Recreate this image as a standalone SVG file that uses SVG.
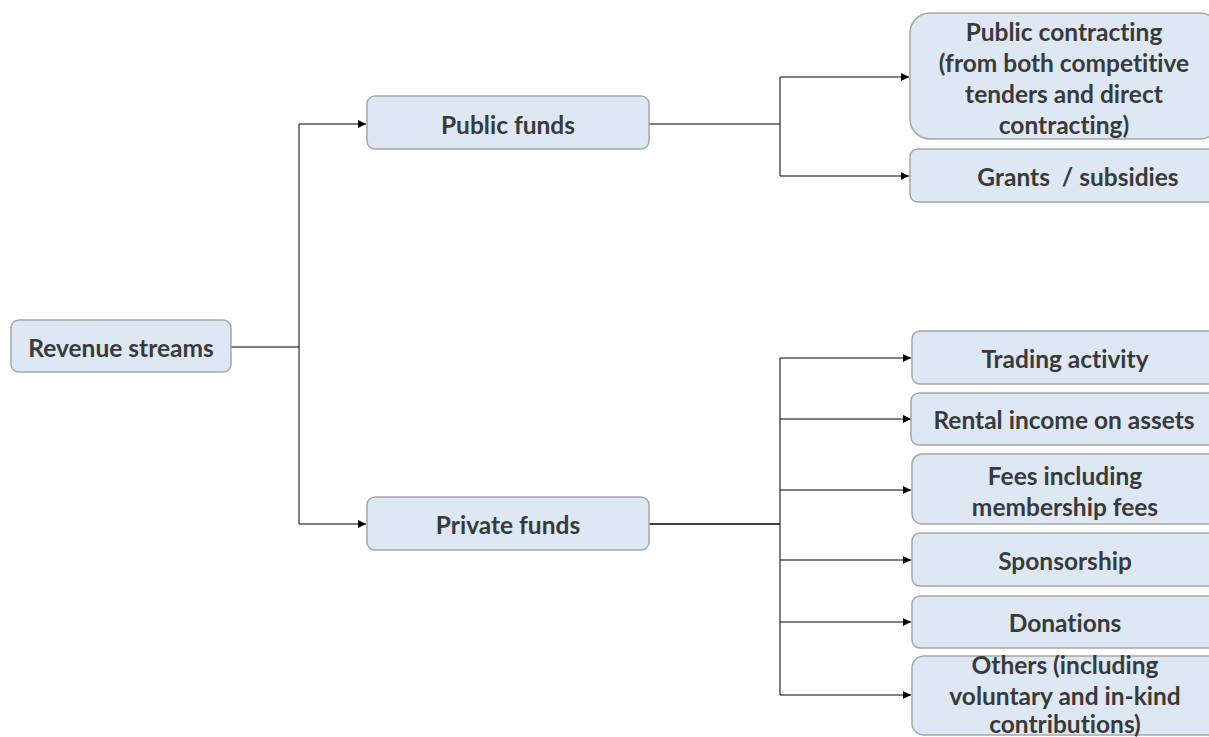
<svg xmlns="http://www.w3.org/2000/svg" width="1209" height="737" viewBox="0 0 1209 737">
<style>
.box{fill:#dde8f4;stroke:#a6a6a6;stroke-width:1.5}
.t{font-family:Lato,"Liberation Sans",sans-serif;font-weight:bold;font-size:24.5px;fill:#3a3a3a;text-anchor:middle;dominant-baseline:central;font-variant-ligatures:none}
.c{fill:none;stroke:#000;stroke-width:1}
</style>
<defs>
<marker id="a" viewBox="0 0 10 10" refX="10" refY="5" markerWidth="8" markerHeight="8" markerUnits="userSpaceOnUse" orient="auto"><path d="M0,0 L10,5 L0,10 z" fill="#000"/></marker>
</defs>
<rect width="1209" height="737" fill="#fff"/>
<g id="connectors">
<path class="c" d="M231,347 H299"/>
<path class="c" d="M299,124 V524"/>
<path class="c" d="M299,124 H366" marker-end="url(#a)"/>
<path class="c" d="M299,524 H366" marker-end="url(#a)"/>
<path class="c" d="M649,124 H780"/>
<path class="c" d="M780,77 V176"/>
<path class="c" d="M780,77 H909" marker-end="url(#a)"/>
<path class="c" d="M780,176 H909" marker-end="url(#a)"/>
<path class="c" d="M649,524 H780" style="stroke-width:1.5"/>
<path class="c" d="M780,358 V695"/>
<path class="c" d="M780,358 H911" marker-end="url(#a)"/>
<path class="c" d="M780,419 H911" marker-end="url(#a)"/>
<path class="c" d="M780,490 H911" marker-end="url(#a)"/>
<path class="c" d="M780,560 H911" marker-end="url(#a)"/>
<path class="c" d="M780,622 H911" marker-end="url(#a)"/>
<path class="c" d="M780,695 H911" marker-end="url(#a)"/>
</g>
<g id="revenue"><rect class="box" x="11" y="320" width="220" height="52" rx="8"/><text class="t" x="121" y="347">Revenue streams</text></g>
<g id="public"><rect class="box" x="367" y="96" width="282" height="53" rx="8"/><text class="t" x="508" y="124">Public funds</text></g>
<g id="private"><rect class="box" x="367" y="497" width="282" height="53" rx="8"/><text class="t" x="508" y="524">Private funds</text></g>
<g id="contracting"><rect class="box" x="910" y="13" width="310" height="126" rx="20"/>
<text class="t" x="1064" y="31">Public contracting</text>
<text class="t" x="1064" y="62">(from both competitive</text>
<text class="t" x="1064" y="93">tenders and direct</text>
<text class="t" x="1064" y="124">contracting)</text></g>
<g id="grants"><rect class="box" x="910" y="149" width="310" height="53" rx="8"/><text class="t" x="1078" y="176" xml:space="preserve">Grants  / subsidies</text></g>
<g id="trading"><rect class="box" x="912" y="331" width="308" height="53" rx="8"/><text class="t" x="1065" y="358">Trading activity</text></g>
<g id="rental"><rect class="box" x="911" y="393" width="309" height="52" rx="8"/><text class="t" x="1064" y="419">Rental income on assets</text></g>
<g id="fees"><rect class="box" x="912" y="454" width="308" height="70" rx="10"/>
<text class="t" x="1065" y="475">Fees including</text>
<text class="t" x="1065" y="506">membership fees</text></g>
<g id="sponsorship"><rect class="box" x="912" y="533" width="308" height="53" rx="8"/><text class="t" x="1065" y="560">Sponsorship</text></g>
<g id="donations"><rect class="box" x="912" y="596" width="308" height="52" rx="8"/><text class="t" x="1065" y="622">Donations</text></g>
<g id="others"><rect class="box" x="912" y="656" width="308" height="79" rx="12"/>
<text class="t" x="1065" y="664">Others (including</text>
<text class="t" x="1065" y="695">voluntary and in-kind</text>
<text class="t" x="1065" y="723">contributions)</text></g>
</svg>
